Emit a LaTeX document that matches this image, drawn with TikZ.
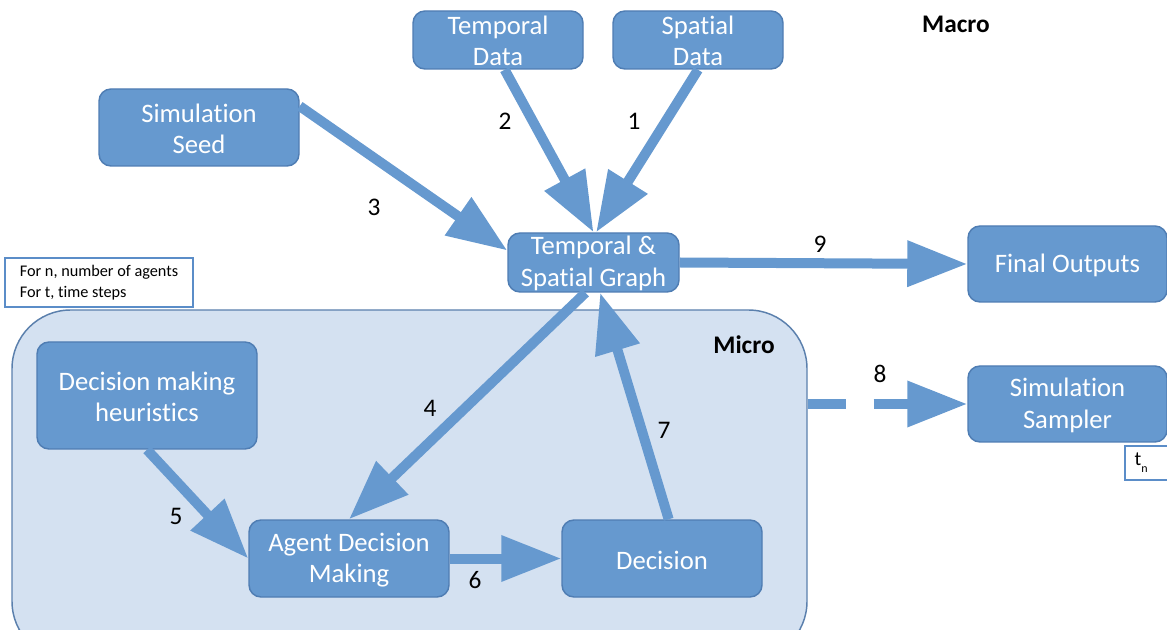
\documentclass[tikz,border=0pt]{standalone}
\usepackage{fontspec}
\setmainfont[Ligatures=NoCommon]{Carlito}
\usetikzlibrary{arrows.meta,shadows}
\definecolor{boxfill}{HTML}{6699CF}
\definecolor{boxline}{HTML}{4F7DB3}
\definecolor{flowc}{HTML}{6699CF}
\definecolor{microfill}{HTML}{D4E1F1}
\definecolor{microline}{HTML}{5B80AD}
\definecolor{noteline}{HTML}{5B8DC8}
\begin{document}
\begin{tikzpicture}[x=0.75pt,y=-0.75pt,
  box/.style={draw=boxline, line width=1.1pt, fill=boxfill, rounded corners=9pt,
    text=white, align=center, inner sep=0pt,
    font=\fontsize{20}{23.5}\selectfont},
  flow/.style={draw=flowc, line width=7.5pt, -{Triangle[length=45pt,width=33pt]}},
  lbl/.style={text=black, font=\fontsize{19}{22}\selectfont, inner sep=0pt},
  head/.style={text=black, font=\bfseries\fontsize{19}{22}\selectfont, inner sep=0pt},
  note/.style={draw=noteline, line width=0.8pt, fill=white, align=left,
    inner sep=0pt, font=\fontsize{12.2}{15.5}\selectfont}]
\useasboundingbox (0,0) rectangle (1167,630);

% micro-level container
\node[draw=microline, line width=1.1pt, fill=microfill, rounded corners=44pt,
  minimum width=596.25pt, minimum height=262.5pt, inner sep=0pt] (micro) at (409.5,485) {};
\node[head] (microlbl) at (744,345) {Micro};
\node[head] (macrolbl) at (956,24) {Macro};

% boxes
\node[box, minimum width=127.5pt, minimum height=43.5pt] (tdata) at (498,40) {\rule{0pt}{15pt}Temporal\\Data};
\node[box, minimum width=127.5pt, minimum height=43.5pt] (sdata) at (698,40) {\rule{0pt}{15pt}Spatial\\Data};
\node[box, minimum width=150pt, minimum height=57.75pt] (seed) at (199,127.5) {\rule{0pt}{16pt}Simulation\\Seed};
\node[box, minimum width=128.25pt, minimum height=44.25pt] (graph) at (593.5,262.5) {\rule{0pt}{15pt}Temporal \&\\Spatial Graph};
\node[box, minimum width=149.25pt, minimum height=57pt] (final) at (1067.5,264) {\rule{0pt}{16pt}Final Outputs};
\node[box, minimum width=149.25pt, minimum height=57pt] (sampler) at (1067.5,404) {\rule{0pt}{16pt}Simulation\\Sampler};
\node[box, minimum width=165pt, minimum height=80.25pt] (heur) at (147,395.5) {\rule{0pt}{16pt}Decision making\\heuristics};
\node[box, minimum width=150pt, minimum height=57.75pt] (agent) at (349,558.5) {\rule{0pt}{16pt}Agent Decision\\Making};
\node[box, minimum width=150pt, minimum height=57.75pt] (dec) at (662,558.5) {\rule{0pt}{16pt}Decision};

% legend boxes
\node[note, minimum width=141pt, minimum height=36.75pt,
  drop shadow={shadow xshift=1pt, shadow yshift=-1pt, fill=black!35}] (key) at (99,282.5)
  {For n, number of agents\\For t, time steps};
\node[draw=noteline, line width=0.8pt, fill=white, minimum width=37.5pt, minimum height=25.5pt,
  inner xsep=7pt, text width=23pt, align=left, font=\fontsize{15}{15}\selectfont] (tn) at (1150,463)
  {t\raisebox{-5pt}{\fontsize{9}{9}\selectfont n}};

% connectors
\draw[flow] ([xshift=5pt]tdata.south) -- (graph.north);
\draw[flow] (sdata.south) -- ([xshift=2pt]graph.north);
\draw[flow] ([yshift=16pt]seed.east) -- ([yshift=9pt]graph.west);
\draw[flow] (graph.east) -- (final.west);
\draw[flow] ([xshift=-6pt]graph.south) -- (agent.north);
\draw[flow] ([xshift=5pt]dec.north) -- ([xshift=5pt]graph.south);
\draw[flow] (heur.south) -- (agent.west);
\draw[flow] (agent.east) -- (dec.west);
\draw[flow, dash pattern=on 28.5pt off 21pt on 300pt] (micro.east |- sampler.west) -- (sampler.west);

% step numbers
\node[lbl] (n1) at (634,121) {1};
\node[lbl] (n2) at (505,121) {2};
\node[lbl] (n3) at (374,207) {3};
\node[lbl] (n4) at (430,408) {4};
\node[lbl] (n5) at (176,516) {5};
\node[lbl] (n6) at (475,580) {6};
\node[lbl] (n7) at (664,430) {7};
\node[lbl] (n8) at (880,374) {8};
\node[lbl] (n9) at (820,244) {9};
\end{tikzpicture}
\end{document}
